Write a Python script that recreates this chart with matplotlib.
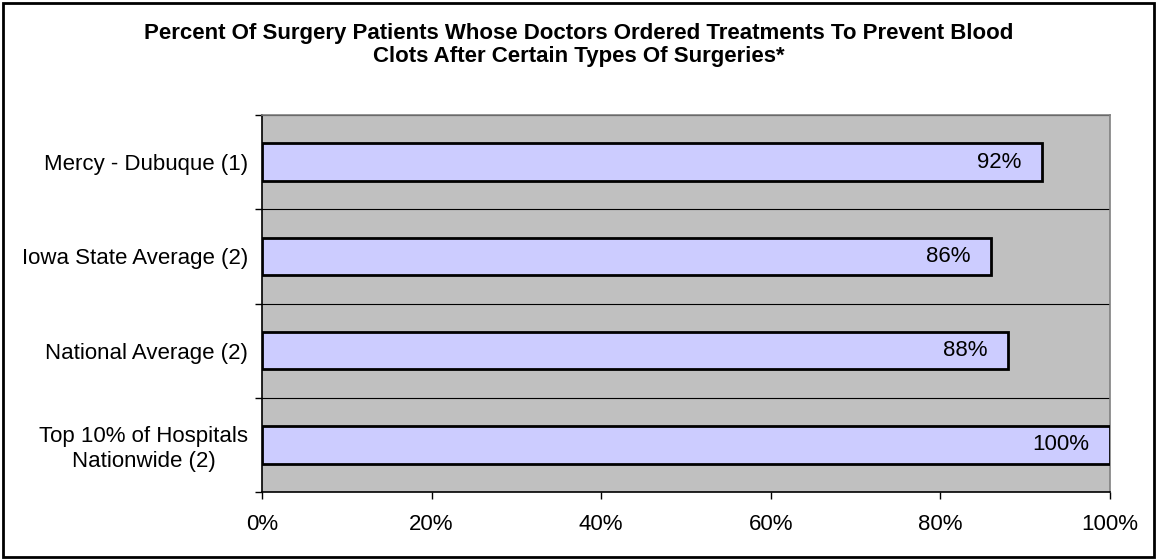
import matplotlib
matplotlib.use("Agg")
from matplotlib import pyplot as plt
from matplotlib.patches import Rectangle
import numpy as np

plt.rcParams['font.family'] = ['Liberation Sans', 'DejaVu Sans']

# categories top to bottom
categories = ["Mercy - Dubuque (1)", "Iowa State Average (2)",
              "National Average (2)", "Top 10% of Hospitals\nNationwide (2)"]
values = [92, 86, 88, 100]
xticks = [0, 20, 40, 60, 80, 100]
title = ("Percent Of Surgery Patients Whose Doctors Ordered Treatments To Prevent Blood\n"
         "Clots After Certain Types Of Surgeries*")

fs = 16

fig = plt.figure(figsize=(11.57, 5.6), dpi=100)
ax = fig.add_axes([262 / 1157, 1 - 492 / 560, (1110 - 262) / 1157, (492 - 115) / 560])

# outer frame
fig.patches.append(Rectangle((0.003, 0.005), 0.994, 0.99, transform=fig.transFigure,
                             fill=False, edgecolor="black", linewidth=2))

y = np.arange(len(categories))
ax.barh(y, values, height=0.4, color="#ccccff", edgecolor="black", linewidth=2, zorder=3)
for yi, v in zip(y, values):
    ax.text(v - 2.4, yi, f"{v}%", ha="right", va="center", fontsize=fs, zorder=4)

ax.set_facecolor("#c0c0c0")
ax.set_xlim(0, 100)
ax.set_ylim(len(categories) - 0.5, -0.5)
ax.set_xticks(xticks)
ax.set_xticklabels([f"{t}%" for t in xticks], fontsize=fs)
ax.set_yticks(y)
ax.set_yticklabels(categories, fontsize=fs, multialignment="center")
ax.set_yticks(np.arange(-0.5, len(categories)), minor=True)
ax.tick_params(axis="y", which="major", length=0, pad=10)
ax.tick_params(axis="y", which="minor", length=5, width=1, color="black", direction="out")
ax.tick_params(axis="x", length=5, width=1, direction="out", pad=11)
ax.grid(axis="y", which="minor", color="black", linewidth=0.8, zorder=1)

ax.spines["left"].set_color("black")
ax.spines["bottom"].set_color("black")
ax.spines["top"].set_color("#808080")
ax.spines["right"].set_color("#808080")
for s in ax.spines.values():
    s.set_linewidth(1.2)

fig.text(0.5, 1 - 45 / 560, title, ha="center", va="center", fontsize=fs,
         fontweight="bold", linespacing=1.15)

fig.savefig("out.png", dpi=100)
